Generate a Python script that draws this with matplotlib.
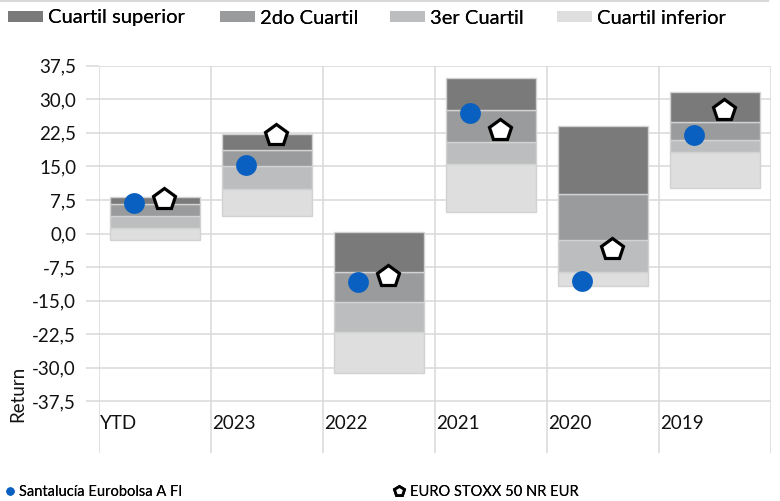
import matplotlib
matplotlib.use("Agg")
import matplotlib.pyplot as plt
from matplotlib.patches import Patch
from matplotlib.lines import Line2D
import numpy as np

plt.rcParams['font.family'] = ['Lato', 'DejaVu Sans']

categories = ['YTD', '2023', '2022', '2021', '2020', '2019']
q_low = [-1.5, 3.9, -31.25, 4.7, -11.8, 10.2]
q_b1 = [1.25, 10.0, -22.0, 15.5, -8.6, 18.2]
q_b2 = [3.9, 15.1, -15.3, 20.4, -1.5, 20.8]
q_b3 = [6.5, 18.6, -8.6, 27.5, 8.8, 24.9]
q_top = [8.2, 22.3, 0.4, 34.8, 24.0, 31.6]
fund = [6.8, 15.4, -10.9, 26.9, -10.6, 22.1]
index = [7.8, 22.1, -9.5, 23.1, -3.4, 27.7]
yticks = [-37.5, -30.0, -22.5, -15.0, -7.5, 0.0, 7.5, 15.0, 22.5, 30.0, 37.5]
quartile_names = ['Cuartil superior', '2do Cuartil', '3er Cuartil', 'Cuartil inferior']
fund_name = 'Santalucía Eurobolsa A FI'
index_name = 'EURO STOXX 50 NR EUR'
ylabel = 'Return'

colors = ['#7a7a7b', '#9a9b9d', '#bcbdbe', '#dedede']
edge = '#d2d2d2'
grid_c = '#d9d9d9'

W, H = 780, 501
fig = plt.figure(figsize=(W / 100, H / 100), dpi=100)
ax = fig.add_axes([99 / W, 1 - 453 / H, (771 - 99) / W, (453 - 65.7) / H])

x = np.arange(len(categories))
bounds = [np.array(q_low), np.array(q_b1), np.array(q_b2), np.array(q_b3), np.array(q_top)]
for k in range(4):
    lo = bounds[k]
    hi = bounds[k + 1]
    ax.bar(x + 0.5, hi - lo, bottom=lo, width=0.8, color=colors[3 - k],
           edgecolor=edge, linewidth=1.0, zorder=2)

ax.plot(x + 0.315, fund, linestyle='none', marker='o', markersize=15,
        color='#0a60c0', markeredgewidth=0, zorder=4)
ax.plot(x + 0.583, index, linestyle='none', marker='p', markersize=16,
        markerfacecolor='white', markeredgecolor='black', markeredgewidth=2.3, zorder=5)

ax.set_xlim(0, len(categories))
ax.set_ylim(-49.05, 37.5)
ax.set_yticks(yticks)
ax.set_yticklabels([f"{v:.1f}".replace('.', ',') for v in yticks], fontsize=13.5)
ax.set_xticks(np.arange(len(categories) + 1))
ax.set_xticklabels([])
ax.tick_params(axis='x', length=0)
ax.tick_params(axis='y', length=9.5, width=1.1, color=grid_c, pad=7, labelcolor='#111111')
ax.grid(True, color=grid_c, linewidth=1.1, zorder=0)
ax.set_axisbelow(True)
for s in ax.spines.values():
    s.set_visible(False)

for i, c in enumerate(categories):
    ax.text(i + 0.01, -42.4, c, ha='left', va='center', fontsize=13.5, color='#111111')

fig.text(18 / W, 1 - 394 / H, ylabel, rotation=90, ha='center', va='center',
         fontsize=13.5, color='#111111')

leg_x = [8, 220, 390, 557]
for k in range(4):
    h = Patch(facecolor=colors[k], edgecolor='none')
    lg = fig.legend(handles=[h], labels=[quartile_names[k]], loc='center left',
                    bbox_to_anchor=(leg_x[k] / W, 1 - 18 / H), frameon=False,
                    fontsize=14.5, handlelength=1.75, handleheight=0.5,
                    handletextpad=0.25, borderpad=0, borderaxespad=0)
    fig.add_artist(lg)

h1 = Line2D([], [], linestyle='none', marker='o', markersize=6, color='#0a60c0', markeredgewidth=0)
lg = fig.legend(handles=[h1], labels=[fund_name], loc='center left',
                bbox_to_anchor=(6 / W, 1 - 492 / H), frameon=False, fontsize=10.5,
                handlelength=0.6, handletextpad=0.3, borderpad=0, borderaxespad=0)
fig.add_artist(lg)
h2 = Line2D([], [], linestyle='none', marker='p', markersize=7, markerfacecolor='white',
            markeredgecolor='black', markeredgewidth=2)
lg = fig.legend(handles=[h2], labels=[index_name], loc='center left',
                bbox_to_anchor=(394 / W, 1 - 492 / H), frameon=False, fontsize=10.5,
                handlelength=0.7, handletextpad=0.4, borderpad=0, borderaxespad=0)
fig.add_artist(lg)

fig.add_artist(Line2D([0, 0.985], [0.998, 0.998], transform=fig.transFigure, color=grid_c, linewidth=1.5))

fig.savefig('out.png', dpi=100)
